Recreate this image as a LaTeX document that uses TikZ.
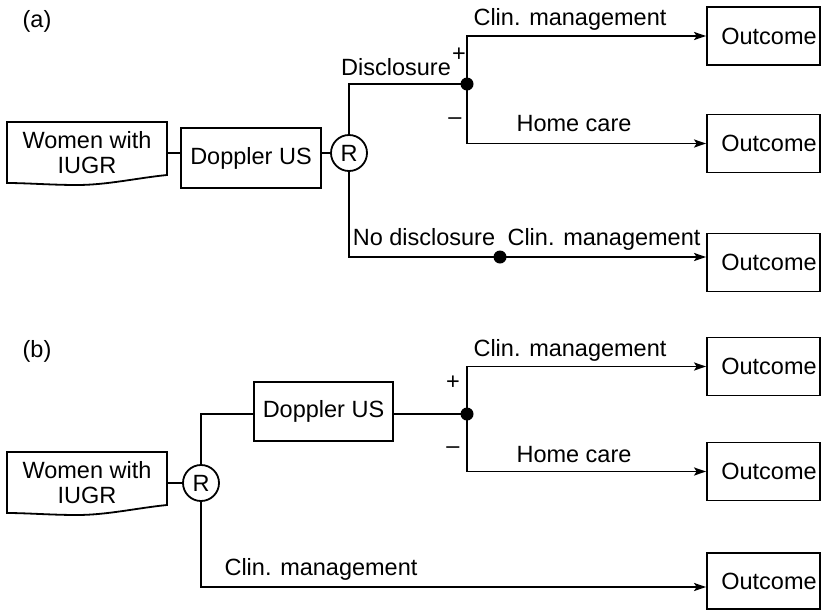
\documentclass[tikz,border=0pt]{standalone}
\usepackage{fontspec}
\setmainfont{Liberation Sans}
\usetikzlibrary{arrows.meta}
\begin{document}
\begin{tikzpicture}[x=1pt,y=-1pt,
  every node/.style={font=\fontsize{23.5}{25}\selectfont},
  conn/.style={line width=1.8pt},
  arr/.style={conn,-{Stealth[length=12pt,width=8pt,inset=2.5pt]}},
  plainbox/.style={draw,line width=1.8pt,inner sep=0pt},
  outbox/.style={plainbox,minimum width=113pt,minimum height=58pt},
  dopbox/.style={plainbox,minimum width=140pt,minimum height=60pt},
  rnode/.style={circle,draw,line width=1.8pt,minimum size=36pt,inner sep=0pt},
  dotnode/.style={circle,fill,minimum size=13pt,inner sep=0pt},
  doctext/.style={align=center,minimum width=160pt,minimum height=53pt,inner sep=0pt},
  lbl/.style={anchor=base,inner sep=0pt},
  sgn/.style={anchor=center,inner sep=0pt},
]
\useasboundingbox (0,0) rectangle (825,611);
\newcommand{\docoutline}[1]{%
  \draw[conn] ([shift={(-80,-31)}]#1.center) -- ([shift={(80,-31)}]#1.center)
    -- ([shift={(80,22)}]#1.center)
    .. controls ([shift={(50,25)}]#1.center) and ([shift={(20,32)}]#1.center) .. ([shift={(-10,32)}]#1.center)
    .. controls ([shift={(-35,32)}]#1.center) and ([shift={(-60,30)}]#1.center) .. ([shift={(-80,30)}]#1.center)
    -- cycle;}
\newcommand{\outtxt}{\hspace*{11pt}Outcome}

% ---------------- (a) ----------------
\node[lbl] (la) at (37,27) {(a)};
\node[doctext] (wa) at (87,153) {Women with\\IUGR};
\docoutline{wa}
\node[dopbox] (da) at (251,158) {Doppler US};
\node[rnode] (ra) at (349,153) {R};
\node[dotnode] (pa) at (467,84) {};
\node[dotnode] (qa) at (500,257) {};
\node[outbox] (a1) at (763.5,36) {\outtxt};
\node[outbox] (a2) at (763.5,143.5) {\outtxt};
\node[outbox] (a3) at (763.5,262.5) {\outtxt};

\draw[conn] (wa.east) -- (wa.east -| da.west);
\draw[conn] (da.east |- ra.west) -- (ra.west);
\draw[conn] (ra.north) |- (pa.center);
\draw[arr] (pa.center) |- (a1.west);
\draw[arr] (pa.center) |- (a2.west);
\draw[conn] (ra.south) |- (qa.center);
\draw[arr] (qa.center) -- (qa.center -| a3.west);

\node[lbl] (ta1) at (570,25.5) {Clin. management};
\node[lbl] (tdis) at (396,75) {Disclosure};
\node[sgn] (pla) at (459,55) {+};
\node[lbl] (mia) at (455,124.5) {–};
\node[lbl] (ta2) at (574,131.5) {Home care};
\node[lbl] (tnd) at (424,245) {No disclosure};
\node[lbl] (ta3) at (604,245) {Clin. management};

% ---------------- (b) ----------------
\node[lbl] (lb) at (37,357) {(b)};
\node[doctext] (wb) at (87,483) {Women with\\IUGR};
\docoutline{wb}
\node[rnode] (rb) at (201,483) {R};
\node[dopbox,minimum width=139pt,minimum height=59pt] (db) at (323.5,411.5) {Doppler US};
\node[dotnode] (pb) at (467,414) {};
\node[outbox] (b1) at (763.5,366.5) {\outtxt};
\node[outbox] (b2) at (763.5,471.5) {\outtxt};
\node[outbox,minimum height=56pt] (b3) at (763.5,581) {\outtxt};

\draw[conn] (wb.east |- rb.west) -- (rb.west);
\draw[conn] (rb.north) |- (db.west |- pb.center);
\draw[conn] (db.east |- pb.center) -- (pb.center);
\draw[arr] (pb.center) |- (b1.west);
\draw[arr] (pb.center) |- (b2.west);
\draw[arr] (rb.south) |- ([yshift=-6pt]b3.west);

\node[lbl] (tb1) at (570,356.5) {Clin. management};
\node[sgn] (plb) at (453,383) {+};
\node[lbl] (mib) at (453,453.5) {–};
\node[lbl] (tb2) at (574,462) {Home care};
\node[lbl] (tb3) at (321,575) {Clin. management};
\end{tikzpicture}
\end{document}
